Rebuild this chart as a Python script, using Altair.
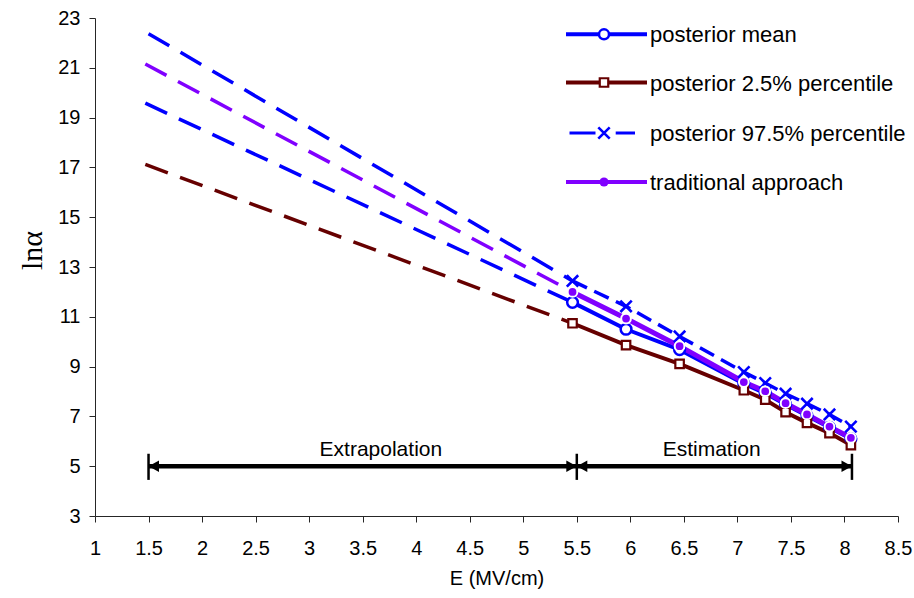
import altair as alt
import pandas as pd

# ---------------- data ----------------
E_est = [5.46, 5.96, 6.46, 7.06, 7.26, 7.45, 7.65, 7.86, 8.06]
post_mean = [11.58, 10.5, 9.68, 8.31, 7.93, 7.48, 7.03, 6.56, 6.10]
post_p025 = [10.74, 9.86, 9.11, 8.05, 7.67, 7.17, 6.74, 6.33, 5.85]
post_p975 = [12.44, 11.42, 10.21, 8.78, 8.34, 7.91, 7.51, 7.08, 6.59]
trad = [12.00, 10.93, 9.82, 8.38, 8.01, 7.53, 7.08, 6.59, 6.14]

E_extrap = [1.47, 5.46]
E_extrap_p975 = [1.50, 5.46]
extrap_mean = [19.58, 11.58]
extrap_p025 = [17.12, 10.74]
extrap_p975 = [22.37, 12.44]
extrap_trad = [21.15, 12.00]

x_ticks = [1, 1.5, 2, 2.5, 3, 3.5, 4, 4.5, 5, 5.5, 6, 6.5, 7, 7.5, 8, 8.5]
y_ticks = [3, 5, 7, 9, 11, 13, 15, 17, 19, 21, 23]

annot_text = ["Extrapolation", "Estimation"]
annot_x = [3.67, 6.76]
annot_y = [5.41, 5.41]
arrow_bounds = [1.5, 5.5, 8.07]
arrow_level = 5.0
bar_low, bar_high = 4.45, 5.5

labels = ["posterior mean", "posterior 2.5% percentile",
          "posterior 97.5% percentile", "traditional approach"]

BLUE = "#0000FF"
RED = "#660000"
PURPLE = "#8000FF"
FONT = "Liberation Sans"

# ---------------- encodings ----------------
X = alt.X("E:Q", scale=alt.Scale(domain=[1, 8.5], nice=False, zero=False),
          axis=alt.Axis(values=x_ticks, format="~g", title="E (MV/cm)",
                        labelPadding=16, titleY=68, titleBaseline="alphabetic",
                        labelFlush=False, labelOverlap=False))
Y = alt.Y("v:Q", scale=alt.Scale(domain=[3, 23], nice=False, zero=False),
          axis=alt.Axis(values=y_ticks, format="d", title="lnα",
                        labelPadding=9, titleFont="Liberation Serif",
                        titleFontSize=30, titleAngle=270,
                        titleBaseline="alphabetic", titleAlign="center",
                        titleX=-54, titleY=232, labelFlush=False,
                        labelOverlap=False))


def frame(xs, ys):
    return pd.DataFrame({"E": xs, "v": ys})


def line(xs, ys, color, width, dash=None):
    kw = dict(color=color, strokeWidth=width, strokeJoin="round")
    if dash:
        kw["strokeDash"] = dash
    return alt.Chart(frame(xs, ys)).mark_line(**kw).encode(x=X, y=Y)


def points(xs, ys, **kw):
    return alt.Chart(frame(xs, ys)).mark_point(opacity=1, **kw).encode(x=X, y=Y)


XPATH = "M-1,-1L1,1M1,-1L-1,1"
EXTRA_DASH = [24, 13]

layers = [
    # extrapolation (dashed)
    line(E_extrap, extrap_p025, RED, 3.5, EXTRA_DASH),
    line(E_extrap, extrap_mean, BLUE, 3.5, EXTRA_DASH),
    line(E_extrap, extrap_trad, PURPLE, 3.5, EXTRA_DASH),
    line(E_extrap_p975, extrap_p975, BLUE, 3.5, EXTRA_DASH),
    # estimation lines
    line(E_est, post_mean, BLUE, 4),
    line(E_est, post_p025, RED, 4),
    line(E_est, trad, PURPLE, 5),
    line(E_est, post_p975, BLUE, 3.5, [16, 8]),
    # markers
    points(E_est, post_mean, shape="circle", filled=True, fill="white",
           stroke=BLUE, strokeWidth=2.5, size=115),
    points(E_est, post_p025, shape="square", filled=True, fill="white",
           stroke=RED, strokeWidth=2.2, size=72),
    points(E_est, post_p975, shape=XPATH, filled=False, stroke=BLUE,
           strokeWidth=2.6, size=130),
    points(E_est, trad, shape="circle", filled=True, fill=PURPLE,
           stroke="white", strokeWidth=2, size=95),
]

# ---------------- Extrapolation / Estimation arrows ----------------
arrow_df = pd.DataFrame({"E": [arrow_bounds[0]], "E2": [arrow_bounds[-1]],
                         "v": [arrow_level]})
layers.append(alt.Chart(arrow_df).mark_rule(color="black", strokeWidth=4.5)
              .encode(x=X, x2="E2:Q", y=Y))
bar_df = pd.DataFrame({"E": arrow_bounds, "v": [bar_low] * 3,
                       "v2": [bar_high] * 3})
layers.append(alt.Chart(bar_df).mark_rule(color="black", strokeWidth=2.5)
              .encode(x=X, y=Y, y2="v2:Q"))
layers.append(points(arrow_bounds[:2], [arrow_level] * 2,
                     shape="M0,0L1,-0.55L1,0.55Z", filled=True, color="black",
                     size=440, strokeWidth=0))
layers.append(points(arrow_bounds[1:], [arrow_level] * 2,
                     shape="M0,0L-1,-0.55L-1,0.55Z", filled=True, color="black",
                     size=440, strokeWidth=0))
annot_df = pd.DataFrame({"E": annot_x, "v": annot_y, "t": annot_text})
layers.append(alt.Chart(annot_df).mark_text(font=FONT, fontSize=21,
                                            baseline="alphabetic",
                                            align="center", color="black")
              .encode(x=X, y=Y, text="t:N"))

# ---------------- legend (drawn manually) ----------------
DUMMY = pd.DataFrame({"k": [0]})
row_y = [16.3, 64.5, 115, 164]
LX1, LX2, LXM, LXT = 471, 552, 509, 555


def lg_rule(x1, x2, y, color, width):
    return alt.Chart(DUMMY).mark_rule(color=color, strokeWidth=width).encode(
        x=alt.value(x1), x2=alt.value(x2), y=alt.value(y))


def lg_point(y, **kw):
    return alt.Chart(DUMMY).mark_point(opacity=1, **kw).encode(
        x=alt.value(LXM), y=alt.value(y))


def lg_text(y, label):
    return alt.Chart(DUMMY).mark_text(font=FONT, fontSize=22, align="left",
                                      baseline="middle", color="black",
                                      text=label).encode(
        x=alt.value(LXT), y=alt.value(y + 1))


layers += [
    lg_rule(LX1, LX2, row_y[0], BLUE, 4),
    lg_point(row_y[0], shape="circle", filled=True, fill="white", stroke=BLUE,
             strokeWidth=2.5, size=100),
    lg_text(row_y[0], labels[0]),
    lg_rule(LX1, LX2, row_y[1], RED, 4),
    lg_point(row_y[1], shape="square", filled=True, fill="white", stroke=RED,
             strokeWidth=2.2, size=72),
    lg_text(row_y[1], labels[1]),
    lg_rule(474.5, 500.5, row_y[2], BLUE, 3),
    lg_rule(520.7, 540, row_y[2], BLUE, 3),
    lg_point(row_y[2], shape=XPATH, filled=False, stroke=BLUE, strokeWidth=2.6,
             size=130),
    lg_text(row_y[2], labels[2]),
    lg_rule(LX1, LX2, row_y[3], PURPLE, 4),
    lg_point(row_y[3], shape="circle", filled=True, fill=PURPLE,
             strokeWidth=0, size=85),
    lg_text(row_y[3], labels[3]),
]

chart = alt.layer(*layers).properties(
    width=803, height=498,
    padding={"left": 95, "top": 18, "right": 16, "bottom": 82},
    autosize=alt.AutoSizeParams(type="none"),
    background="white",
).configure_view(stroke=None).configure_axis(
    grid=False, domainColor="#262626", domainWidth=1, tickColor="#262626",
    tickSize=6, tickWidth=1, labelFont=FONT, labelFontSize=20,
    labelColor="black", titleFont=FONT, titleFontSize=20,
    titleFontWeight="normal", titleColor="black",
)

chart.save("out.html", embed_options={"renderer": "svg", "actions": False})
